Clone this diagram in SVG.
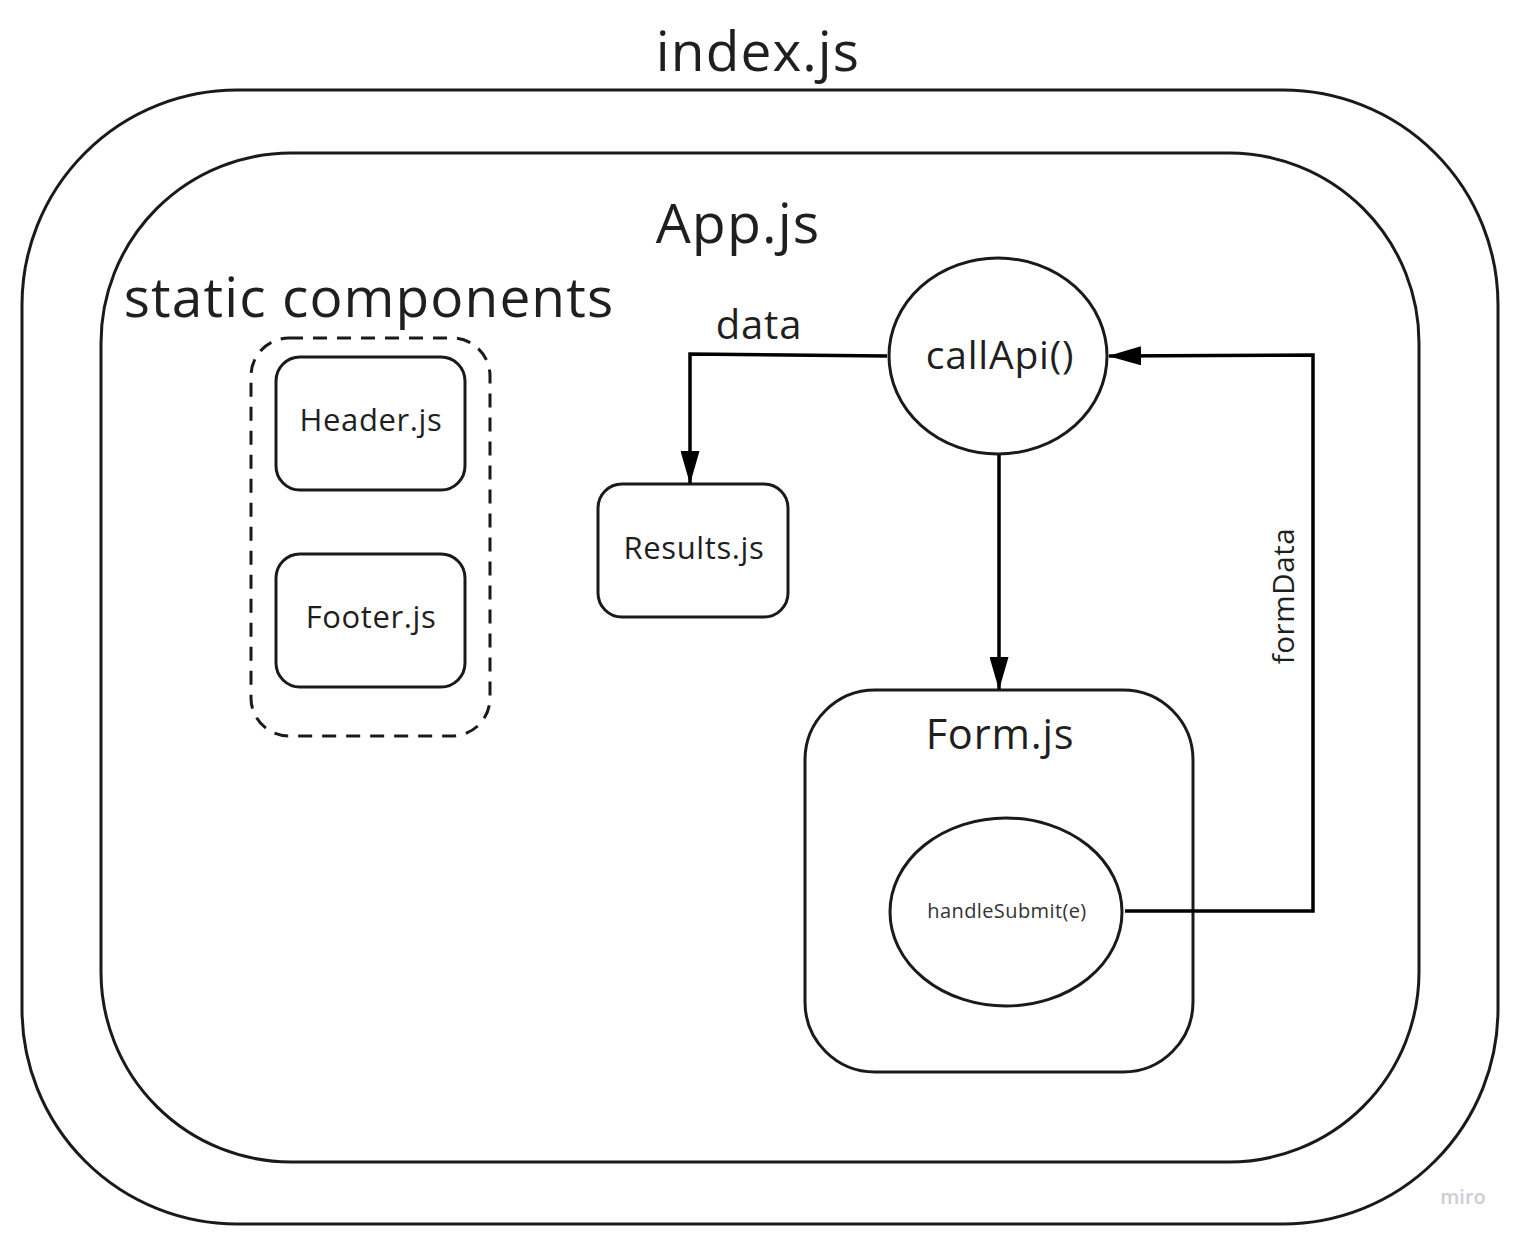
<svg xmlns="http://www.w3.org/2000/svg" width="1523" height="1241" viewBox="0 0 1523 1241">
  <defs>
    <style>
      .box { fill: none; stroke: #1a1a1a; stroke-width: 3; }
      .dash { fill: none; stroke: #1a1a1a; stroke-width: 3; stroke-dasharray: 14 10; }
      .edge { fill: none; stroke: #000; stroke-width: 3.5; }
      .t { font-family: "Open Sans", "Noto Sans", "Liberation Sans", sans-serif; font-weight: 400; letter-spacing: 0.02em; fill: #1f1f1f; text-anchor: middle; }
    </style>
    <marker id="arrow" markerUnits="userSpaceOnUse" markerWidth="33" markerHeight="19" viewBox="0 0 33 19" refX="32" refY="9.5" orient="auto">
      <path d="M0,0 L33,9.5 L0,19 Z" fill="#000"/>
    </marker>
  </defs>
  <rect width="1523" height="1241" fill="#fff"/>

  <g id="index">
    <rect class="box" x="22" y="90" width="1476" height="1134" rx="215" ry="215"/>
    <text class="t" x="758" y="71" font-size="55">index.js</text>
  </g>

  <g id="app">
    <rect class="box" x="101" y="153" width="1318" height="1009" rx="190" ry="190"/>
    <text class="t" x="738" y="243" font-size="55.5">App.js</text>
  </g>

  <g id="static">
    <text class="t" x="369" y="317" font-size="55">static components</text>
    <rect class="dash" x="251" y="338" width="239" height="398" rx="38" ry="38"/>
  </g>

  <g id="header">
    <rect class="box" x="276" y="357" width="189" height="133" rx="24" ry="24"/>
    <text class="t" x="371" y="431" font-size="31">Header.js</text>
  </g>

  <g id="footer">
    <rect class="box" x="276" y="554" width="189" height="133" rx="24" ry="24"/>
    <text class="t" x="371" y="628" font-size="31">Footer.js</text>
  </g>

  <g id="results">
    <rect class="box" x="598" y="484" width="190" height="133" rx="24" ry="24"/>
    <text class="t" x="694" y="559" font-size="31">Results.js</text>
  </g>

  <g id="callapi">
    <ellipse class="box" cx="998" cy="356" rx="109" ry="98"/>
    <text class="t" x="1000" y="369" font-size="39">callApi()</text>
  </g>

  <g id="form">
    <rect class="box" x="805" y="690" width="388" height="382" rx="70" ry="70"/>
    <text class="t" x="1000" y="749" font-size="41.5">Form.js</text>
  </g>

  <g id="handlesubmit">
    <ellipse class="box" cx="1006" cy="912" rx="116" ry="94"/>
    <text class="t" x="1007" y="918" font-size="20" style="fill:#333">handleSubmit(e)</text>
  </g>

  <g id="connectors">
    <polyline class="edge" points="887,356 690,354 690,483" marker-end="url(#arrow)"/>
    <text class="t" x="759" y="339" font-size="40">data</text>
    <line class="edge" x1="999" y1="455" x2="999" y2="689" marker-end="url(#arrow)"/>
    <polyline class="edge" points="1125,911 1313,911 1313,355 1109,356" marker-end="url(#arrow)"/>
    <text class="t" transform="translate(1294,596) rotate(-90)" x="0" y="0" font-size="29.5">formData</text>
  </g>

  <text x="1463" y="1204" font-family="'Open Sans', sans-serif" font-size="20" font-weight="600" fill="#cdcdd6" text-anchor="middle">miro</text>
</svg>
